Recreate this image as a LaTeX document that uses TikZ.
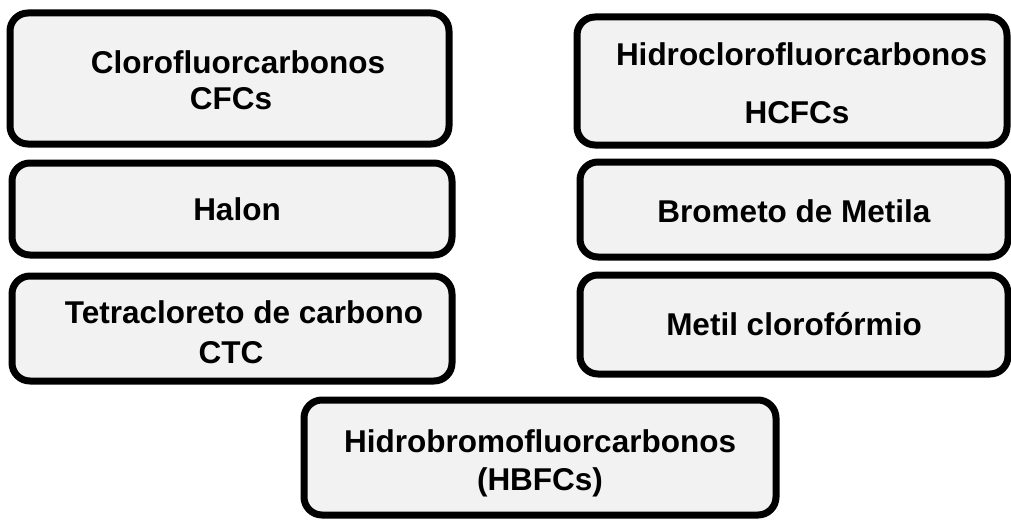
\documentclass[tikz,border=0pt]{standalone}
\usepackage{fontspec}
\setmainfont{Liberation Sans}
\definecolor{boxgray}{RGB}{242,242,242}
\begin{document}
\begin{tikzpicture}[x=1pt,y=-1pt,
  box/.style={draw=black, line width=7pt, fill=boxgray, rounded corners=18pt, inner sep=0pt},
  lbl/.style={font=\bfseries\fontsize{31.5}{36}\selectfont, anchor=base, inner sep=0pt}]
\useasboundingbox (0,0) rectangle (1011,519);
\node[box, minimum width=439pt, minimum height=131pt] (b1) at (229.5,78.5) {};
\node[box, minimum width=430pt, minimum height=128pt] (b2) at (792,81) {};
\node[box, minimum width=440pt, minimum height=92pt] (b3) at (232,209) {};
\node[box, minimum width=428pt, minimum height=95pt] (b4) at (794,209.5) {};
\node[box, minimum width=440pt, minimum height=105pt] (b5) at (232,328.5) {};
\node[box, minimum width=428pt, minimum height=99pt] (b6) at (794,324.5) {};
\node[box, minimum width=472pt, minimum height=115pt] (b7) at (540,457.5) {};
\node[lbl] (t1a) at (238,74) {Clorofluorcarbonos};
\node[lbl] (t1b) at (231,109) {CFCs};
\node[lbl] (t2a) at (801.5,66) {Hidroclorofluorcarbonos};
\node[lbl] (t2b) at (797,123) {HCFCs};
\node[lbl] (t3) at (237,220) {Halon};
\node[lbl] (t4) at (794,222) {Brometo de Metila};
\node[lbl] (t5a) at (244,323) {Tetracloreto de carbono};
\node[lbl] (t5b) at (231,363) {CTC};
\node[lbl] (t6) at (794,335) {Metil clorofórmio};
\node[lbl] (t7a) at (540,452) {Hidrobromofluorcarbonos};
\node[lbl] (t7b) at (540,490) {(HBFCs)};
\end{tikzpicture}
\end{document}
